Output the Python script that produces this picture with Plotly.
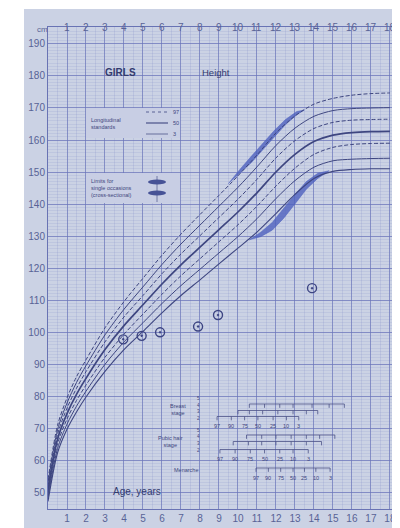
import plotly.graph_objects as go

# ---------------- data ----------------
ages = [0, 0.5, 1, 1.5, 2, 3, 4, 5, 6, 7, 8, 9, 10, 11, 12, 13, 14, 15, 16, 17, 18]
p97 = [53.9, 70.8, 79.4, 86.0, 91.3, 101.3, 109.5, 116.8, 124.0, 130.6, 136.7, 142.7, 148.8, 155.3, 162.2, 167.5, 171.2, 173.0, 174.0, 174.5, 174.7]
p90 = [52.8, 69.4, 77.8, 84.2, 89.5, 99.1, 107.1, 114.1, 121.1, 127.5, 133.4, 139.3, 145.2, 151.6, 158.3, 163.7, 167.4, 169.2, 169.8, 170.0, 170.1]
p75 = [51.7, 68.0, 76.2, 82.4, 87.6, 96.9, 104.7, 111.4, 118.2, 124.4, 130.1, 135.8, 141.5, 147.7, 154.4, 159.8, 163.6, 165.5, 166.2, 166.4, 166.5]
p50 = [50.5, 66.5, 74.5, 80.5, 85.5, 94.5, 102.0, 108.5, 115.0, 121.0, 126.5, 132.0, 137.5, 143.5, 150.0, 155.5, 159.5, 161.5, 162.3, 162.6, 162.7]
p25 = [49.3, 65.0, 72.8, 78.6, 83.4, 92.1, 99.3, 105.6, 111.8, 117.6, 122.9, 128.2, 133.5, 139.3, 145.6, 151.2, 155.5, 157.7, 158.6, 158.9, 159.0]
p10 = [48.2, 63.6, 71.2, 76.8, 81.5, 89.9, 96.9, 102.9, 108.9, 114.5, 119.6, 124.7, 129.8, 135.4, 141.7, 147.3, 151.5, 153.5, 154.0, 154.2, 154.3]
p3 = [47.1, 62.2, 69.6, 75.0, 79.7, 87.7, 94.5, 100.2, 106.0, 111.4, 116.3, 121.3, 126.2, 131.2, 137.0, 143.0, 148.0, 150.2, 150.8, 151.0, 151.0]
pct_names = ["97", "90", "75", "50", "25", "10", "3"]

# cross-sectional limit bands
upper_band_ages = [9.5, 10.1, 10.7, 11.3, 11.9, 12.5, 13.1, 13.5]
upper_band_lo = [146.4, 149.6, 152.9, 156.9, 161.0, 164.8, 167.9, 169.4]
upper_band_hi = [146.4, 150.8, 154.9, 159.0, 162.9, 166.4, 168.9, 169.4]
lower_band_ages = [10.6, 11.2, 11.8, 12.4, 13.0, 13.6, 14.2, 14.8]
lower_band_lo = [128.8, 129.8, 131.8, 135.5, 140.0, 144.6, 148.0, 150.4]
lower_band_hi = [128.8, 131.2, 134.2, 138.5, 143.0, 147.0, 149.6, 150.4]

# individual measurements
obs_age = [3.96, 4.93, 5.9, 7.9, 8.95, 13.9]
obs_height = [97.7, 98.8, 99.9, 101.7, 105.3, 113.7]

# puberty stage ages (97th ... 3rd centile)
breast_stage2 = [8.9, 9.65, 10.35, 11.05, 11.85, 12.55, 13.2]
breast_stage3 = [10.0, 10.6, 11.3, 12.1, 12.9, 13.6, 14.2]
breast_stage4 = [10.6, 11.4, 12.2, 12.9, 13.9, 14.8, 15.6]
pubic_stage2 = [9.05, 9.85, 10.65, 11.4, 12.2, 12.9, 13.7]
pubic_stage3 = [9.75, 10.55, 11.25, 12.0, 12.8, 13.6, 14.4]
pubic_stage4 = [10.45, 11.25, 12.0, 12.8, 13.6, 14.3, 15.1]
menarche = [10.95, 11.6, 12.25, 12.9, 13.5, 14.1, 14.85]

x_ticks = list(range(1, 19))
y_ticks = list(range(50, 200, 10))

# ---------------- geometry / style ----------------
OFF = 8                      # page body margin
W, H = 400 - OFF, 528 - OFF  # figure size
L, R, T, B = 40, 4, 19, 19
X_RANGE = [0, 18.32]
Y_RANGE = [44.69, 195.31]
PW, PH = W - L - R, H - T - B

def ax(px):   # page pixel x -> age
    return X_RANGE[0] + (px - OFF - L) / PW * (X_RANGE[1] - X_RANGE[0])

def ay(py):   # page pixel y -> height
    return Y_RANGE[1] - (py - OFF - T) / PH * (Y_RANGE[1] - Y_RANGE[0])

def px_paper(px):
    return (px - OFF - L) / PW

def py_paper(py):
    return (H - B - (py - OFF)) / PH

FONT = "Liberation Sans"
INK = "rgb(62,70,125)"
TICK = "rgb(88,98,150)"
CURVE = "rgb(62,70,128)"
BAND = "rgba(78,96,190,0.8)"

fig = go.Figure()

# bands
for bx, lo, hi in [(upper_band_ages, upper_band_lo, upper_band_hi),
                   (lower_band_ages, lower_band_lo, lower_band_hi)]:
    fig.add_trace(go.Scatter(x=bx + bx[::-1], y=lo + hi[::-1], fill="toself",
                             fillcolor=BAND, line=dict(width=0.6, color=BAND),
                             mode="lines", hoverinfo="skip", showlegend=False))

styles = {"97": ("dash", 1.0), "90": ("solid", 1.0), "75": ("dash", 1.0),
          "50": ("solid", 1.7), "25": ("dash", 1.0), "10": ("solid", 1.0), "3": ("solid", 1.1)}
for name, vals in zip(pct_names, [p97, p90, p75, p50, p25, p10, p3]):
    dash, w = styles[name]
    fig.add_trace(go.Scatter(x=ages, y=vals, mode="lines", name=name,
                             line=dict(color=CURVE, width=w, dash=dash if dash != "dash" else "4px,2px",
                                       shape="spline", smoothing=0.8),
                             showlegend=False))

# observations
fig.add_trace(go.Scatter(x=obs_age, y=obs_height, mode="markers",
                         marker=dict(symbol="circle-open-dot", size=9, color="rgb(60,68,130)",
                                     line=dict(width=1.4, color="rgb(60,68,130)")),
                         showlegend=False))

# puberty brackets
def bracket(age_list, level, drop=1.2):
    xs, ys = [age_list[0], age_list[-1], None], [level, level, None]
    for a in age_list:
        xs += [a, a, None]
        ys += [level, level - drop, None]
    return xs, ys

rows = [(breast_stage4, ay(404)), (breast_stage3, ay(410.5)), (breast_stage2, ay(416.5)),
        (pubic_stage4, ay(435)), (pubic_stage3, ay(441.5)), (pubic_stage2, ay(449.5)),
        (menarche, ay(468))]
bx_all, by_all = [], []
for al, lev in rows:
    xs, ys = bracket(al, lev)
    bx_all += xs
    by_all += ys
fig.add_trace(go.Scatter(x=bx_all, y=by_all, mode="lines",
                         line=dict(color="rgb(75,82,135)", width=0.8),
                         hoverinfo="skip", showlegend=False))

ann = []
small = dict(size=5.5, color=INK, family=FONT)
for al, py in [(breast_stage2, 426), (pubic_stage2, 459), (menarche, 478)]:
    for a, t in zip(al, pct_names):
        ann.append(dict(x=a, y=ay(py), text=t, showarrow=False, font=small))
for t, py in zip(["5", "4", "3", "2"], [398, 405, 411.5, 418]):
    ann.append(dict(x=ax(198), y=ay(py), text=t, showarrow=False, font=dict(size=4.5, color=INK, family=FONT)))
for t, py in zip(["5", "4", "3", "2"], [430, 436.5, 443.5, 450.5]):
    ann.append(dict(x=ax(198), y=ay(py), text=t, showarrow=False, font=dict(size=4.5, color=INK, family=FONT)))
ann.append(dict(x=ax(178), y=ay(409), text="Breast<br>stage", showarrow=False, font=small))
ann.append(dict(x=ax(170), y=ay(441), text="Pubic hair<br>stage", showarrow=False, font=small))
ann.append(dict(x=ax(186), y=ay(470), text="Menarche", showarrow=False, font=small))

# titles
ann.append(dict(x=ax(120), y=ay(72), text="<b>GIRLS</b>", showarrow=False,
                font=dict(size=10, color="rgb(50,58,110)", family=FONT)))
ann.append(dict(x=ax(216), y=ay(72), text="Height", showarrow=False,
                font=dict(size=9.5, color="rgb(50,58,110)", family=FONT)))
ann.append(dict(x=ax(137), y=ay(491), text="Age, years", showarrow=False,
                font=dict(size=10, color="rgb(50,58,110)", family=FONT)))
ann.append(dict(xref="paper", yref="paper", x=px_paper(36), y=py_paper(30), text="cm",
                yanchor="middle", showarrow=False, borderpad=0,
                font=dict(size=8, color=TICK, family=FONT)))

# top axis labels
for t in x_ticks:
    ann.append(dict(x=t, yref="paper", y=py_paper(20), text=str(t), showarrow=False,
                    font=dict(size=10, color=TICK, family=FONT)))

# right-edge centile labels (partly cut by the photo edge)
for name, vals in zip(pct_names, [p97, p90, p75, p50, p25, p10, p3]):
    ann.append(dict(xref="paper", x=px_paper(393), y=vals[-1] + 0.8, text=name, xanchor="left",
                    showarrow=False, font=dict(size=7.5, color=INK, family=FONT)))

# legend boxes text
ann.append(dict(x=ax(89), y=ay(123), text="Longitudinal<br>standards", xanchor="left", align="left",
                showarrow=False, font=small))
for t, py in zip(["97", "50", "3"], [112, 123, 134]):
    ann.append(dict(x=ax(171), y=ay(py), text=t, xanchor="left", showarrow=False, font=small))
ann.append(dict(x=ax(89), y=ay(188), text="Limits for<br>single occasions<br>(cross-sectional)",
                xanchor="left", align="left", showarrow=False, font=small))

shapes = [
    # photo paper
    dict(type="rect", xref="paper", yref="paper", x0=px_paper(24), x1=px_paper(400),
         y0=py_paper(528), y1=py_paper(9), fillcolor="rgb(203,210,228)",
         line=dict(width=0), layer="below"),
    # legend boxes
    dict(type="rect", x0=ax(86), x1=ax(180), y0=ay(138), y1=ay(108),
         fillcolor="rgb(200,206,228)", line=dict(width=0), layer="above"),
    dict(type="rect", x0=ax(86), x1=ax(180), y0=ay(203), y1=ay(173),
         fillcolor="rgb(200,206,228)", line=dict(width=0), layer="above"),
    dict(type="line", x0=ax(146), x1=ax(168), y0=ay(112), y1=ay(112),
         line=dict(color=CURVE, width=0.8, dash="dot"), layer="above"),
    dict(type="line", x0=ax(146), x1=ax(168), y0=ay(123), y1=ay(123),
         line=dict(color=CURVE, width=1.1), layer="above"),
    dict(type="line", x0=ax(146), x1=ax(168), y0=ay(134), y1=ay(134),
         line=dict(color=CURVE, width=0.7), layer="above"),
    dict(type="line", x0=ax(157), x1=ax(157), y0=ay(176), y1=ay(202),
         line=dict(color="rgb(90,100,150)", width=0.8), layer="above"),
    dict(type="circle", x0=ax(148), x1=ax(166), y0=ay(184.5), y1=ay(179.5),
         fillcolor="rgb(70,82,150)", line=dict(width=0), layer="above"),
    dict(type="circle", x0=ax(148), x1=ax(166), y0=ay(195.5), y1=ay(190.5),
         fillcolor="rgb(70,82,150)", line=dict(width=0), layer="above"),
]

fig.update_layout(
    width=W, height=H,
    margin=dict(l=L, r=R, t=T, b=B, pad=0),
    paper_bgcolor="white",
    plot_bgcolor="rgb(167,175,220)",
    showlegend=False,
    annotations=ann,
    shapes=shapes,
    font=dict(family=FONT, color=TICK),
    xaxis=dict(range=X_RANGE, tickvals=x_ticks, ticktext=[str(t) for t in x_ticks],
               showgrid=True, gridcolor="rgba(105,115,185,0.65)", gridwidth=1,
               minor=dict(dtick=0.5, tick0=0, showgrid=True, gridcolor="rgba(125,135,200,0.2)", gridwidth=0.6),
               zeroline=False, showline=True, linecolor="rgb(105,115,180)", mirror=True,
               ticks="", tickfont=dict(size=10, color=TICK, family=FONT), fixedrange=True),
    yaxis=dict(range=Y_RANGE, tickvals=y_ticks, ticktext=[str(t) for t in y_ticks],
               showgrid=True, gridcolor="rgba(105,115,185,0.7)", gridwidth=1,
               minor=dict(dtick=1, tick0=0, showgrid=True, gridcolor="rgba(125,135,200,0.16)", gridwidth=0.6),
               zeroline=False, showline=True, linecolor="rgb(105,115,180)", mirror=True,
               ticks="", tickfont=dict(size=10, color=TICK, family=FONT), fixedrange=True),
)

fig.write_html("out.html")
